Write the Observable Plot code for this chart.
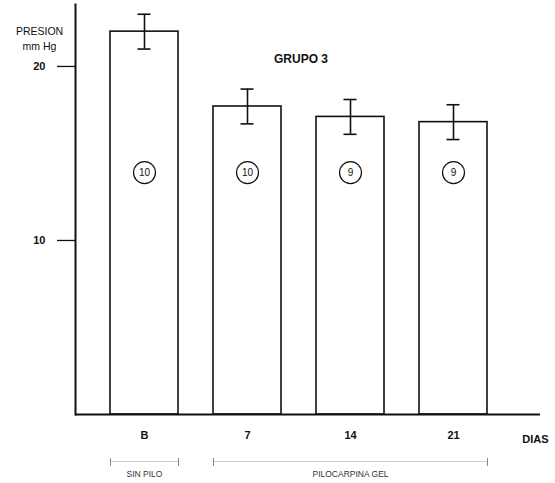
<!DOCTYPE html>
<html>
<head>
<meta charset="utf-8">
<script src="https://cdn.jsdelivr.net/npm/d3@7"></script>
<script src="https://cdn.jsdelivr.net/npm/@observablehq/plot@0.6"></script>
<style>
  html, body { margin: 0; padding: 0; background: #fff; }
  svg { display: block; }
</style>
</head>
<body>
<div id="chart"></div>
<script>
// Data
const dias = ["B", "7", "14", "21"];
const presion = [22.0, 17.7, 17.1, 16.8];
const errorEst = [1.0, 1.0, 1.0, 1.0];
const nOjos = [10, 10, 9, 9];
const yTicks = [10, 20];
const grupoLabels = ["SIN PILO", "PILOCARPINA GEL"];
const grupoDesde = ["B", "7"];
const grupoHasta = ["B", "21"];
const grupoCentro = ["B", "14"];

const data = dias.map((d, i) => ({dia: d, presion: presion[i], lo: presion[i] - errorEst[i], hi: presion[i] + errorEst[i], n: nOjos[i]}));
const grupos = grupoLabels.map((g, i) => ({label: g, from: grupoDesde[i], to: grupoHasta[i], mid: grupoCentro[i]}));

const W = 555, H = 483;
const mL = 75, mR = 15, mT = 4, mB = 69;
const xOpts = {type: "band", domain: dias, paddingInner: 0.343, paddingOuter: 0.418, align: 0.393};
const xs = Plot.scale({x: {...xOpts, range: [mL, W - mR]}});
const bw = xs.bandwidth;
const capInset = (bw - 13) / 2;

const circleY = 13.9;
const brTop = -2.53, brBot = -2.99, brMid = -2.7, brText = -3.45;
const font = "Liberation Sans, Arial, Helvetica, sans-serif";

const plot = Plot.plot({
  width: W,
  height: H,
  marginLeft: mL,
  marginRight: mR,
  marginTop: mT,
  marginBottom: mB,
  style: {fontFamily: font, background: "white", color: "#111"},
  x: {...xOpts, label: null},
  y: {domain: [0, 23.56], label: null},
  marks: [
    Plot.barY(data, {x: "dia", y: "presion", fill: "white", stroke: "#111", strokeWidth: 1.6}),
    Plot.ruleX(data, {x: "dia", y1: "lo", y2: "hi", stroke: "#111", strokeWidth: 1.6}),
    Plot.ruleY(data, {x1: "dia", x2: "dia", y: "hi", stroke: "#111", strokeWidth: 1.6, insetLeft: capInset, insetRight: capInset}),
    Plot.ruleY(data, {x1: "dia", x2: "dia", y: "lo", stroke: "#111", strokeWidth: 1.6, insetLeft: capInset, insetRight: capInset}),
    Plot.dot(data, {x: "dia", y: () => circleY, r: 11, fill: "white", stroke: "#111", strokeWidth: 1.2}),
    Plot.text(data, {x: "dia", y: () => circleY, text: d => String(d.n), fontSize: 10, fill: "#111"}),
    Plot.ruleY([0], {stroke: "#111", strokeWidth: 2}),
    Plot.frame({anchor: "left", stroke: "#111", strokeWidth: 2}),
    Plot.axisY({ticks: yTicks, tickSize: 18, tickPadding: 12, fontSize: 11, fontWeight: "bold", strokeWidth: 1.3, label: null}),
    Plot.axisX({tickSize: 0, tickPadding: 17, fontSize: 11, fontWeight: "bold", label: null}),
    Plot.text(["DIAS"], {frameAnchor: "bottom-right", textAnchor: "end", dx: 8, dy: 28, fontSize: 11, fontWeight: "bold", fill: "#111"}),
    Plot.text(["PRESION\nmm Hg"], {frameAnchor: "top-left", textAnchor: "middle", dx: -36, dy: 20, fontSize: 10.5, lineHeight: 1.4, fill: "#111"}),
    Plot.text(["GRUPO 3"], {frameAnchor: "top", dx: -7, dy: 50, fontSize: 12, fontWeight: "bold", fill: "#111"}),
    // brackets below the axis
    Plot.ruleY(grupos, {x1: "from", x2: "to", y: () => brMid, stroke: "#ccc", strokeWidth: 1}),
    Plot.ruleX(grupos, {x: "from", y1: () => brTop, y2: () => brBot, dx: -bw / 2, stroke: "#888", strokeWidth: 1}),
    Plot.ruleX(grupos, {x: "to", y1: () => brTop, y2: () => brBot, dx: bw / 2, stroke: "#888", strokeWidth: 1}),
    Plot.text(grupos, {x: "mid", y: () => brText, text: "label", fontSize: 8.5, fill: "#333"})
  ]
});
document.getElementById("chart").appendChild(plot);
</script>
</body>
</html>
